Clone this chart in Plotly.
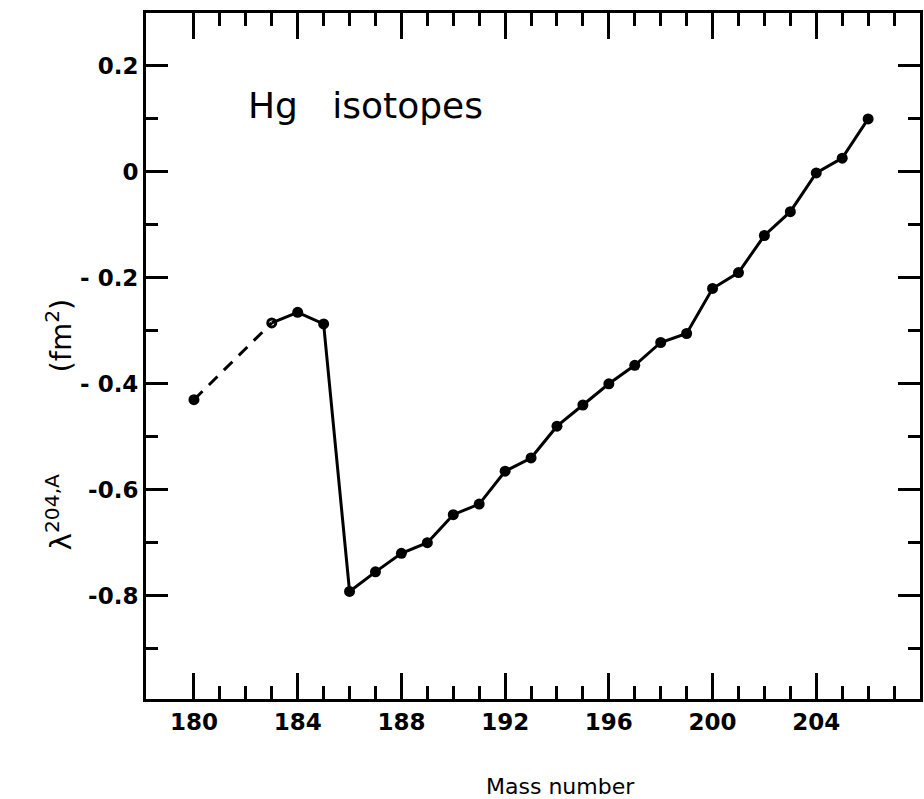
import plotly.graph_objects as go

# Data
mass = [180, 183, 184, 185, 186, 187, 188, 189, 190, 191, 192, 193, 194, 195,
        196, 197, 198, 199, 200, 201, 202, 203, 204, 205, 206]
lam = [-0.43, -0.285, -0.265, -0.287, -0.792, -0.755, -0.72, -0.70, -0.647, -0.627,
       -0.565, -0.54, -0.48, -0.44, -0.40, -0.365, -0.322, -0.305, -0.22, -0.19,
       -0.12, -0.075, -0.002, 0.026, 0.10]
open_mass = [183]

x_major = [180, 184, 188, 192, 196, 200, 204]
x_labels = ["180", "184", "188", "192", "196", "200", "204"]
x_minor = [m for m in range(181, 208) if m not in x_major]
y_major = [0.2, 0.0, -0.2, -0.4, -0.6, -0.8]
y_labels = ["0.2", "0", "- 0.2", "- 0.4", "-0.6", "-0.8"]
y_minor = [0.1, -0.1, -0.3, -0.5, -0.7, -0.9]

FONT = "DejaVu Sans, sans-serif"

fig = go.Figure()
# dashed segment (180 -> 183)
fig.add_trace(go.Scatter(x=mass[:2], y=lam[:2], mode="lines",
                         line=dict(color="black", width=3, dash="12px,9px"),
                         showlegend=False, hoverinfo="skip"))
# solid line from 183 onward
fig.add_trace(go.Scatter(x=mass[1:], y=lam[1:], mode="lines",
                         line=dict(color="black", width=3),
                         showlegend=False))
# filled markers
fx = [m for m in mass if m not in open_mass]
fy = [v for m, v in zip(mass, lam) if m not in open_mass]
fig.add_trace(go.Scatter(x=fx, y=fy, mode="markers",
                         marker=dict(color="black", size=11, symbol="circle"),
                         showlegend=False))
ox = [m for m in mass if m in open_mass]
oy = [v for m, v in zip(mass, lam) if m in open_mass]
fig.add_trace(go.Scatter(x=ox, y=oy, mode="markers",
                         marker=dict(color="black", size=8, symbol="circle-open",
                                     line=dict(width=3, color="black")),
                         showlegend=False))

tickfont = dict(family=FONT, size=23, weight="bold")

fig.update_layout(
    width=924, height=799,
    margin=dict(l=146, r=1, t=13, b=100),
    plot_bgcolor="white", paper_bgcolor="white",
    font=dict(family=FONT, color="black", size=24),
    xaxis=dict(range=[178.15, 208.0], showgrid=False, zeroline=False,
               showline=True, linecolor="black", linewidth=3, mirror="allticks",
               ticks="inside", ticklen=26, tickwidth=3, tickcolor="black",
               tickmode="array", tickvals=x_major, ticktext=x_labels,
               tickfont=tickfont,
               minor=dict(tickmode="array", tickvals=x_minor, ticks="inside",
                          ticklen=13, tickwidth=3, tickcolor="black")),
    yaxis=dict(range=[-0.995, 0.3], showgrid=False, zeroline=False,
               showline=True, linecolor="black", linewidth=3, mirror="allticks",
               ticks="inside", ticklen=22, tickwidth=3, tickcolor="black",
               tickmode="array", tickvals=y_major, ticktext=y_labels,
               tickfont=tickfont,
               minor=dict(tickmode="array", tickvals=y_minor, ticks="inside",
                          ticklen=12, tickwidth=3, tickcolor="black")),
    annotations=[
        dict(text="Hg&nbsp;&nbsp;&nbsp;isotopes", x=186.6, y=0.126, xref="x", yref="y",
             showarrow=False, font=dict(family=FONT, size=36)),
        dict(text="Mass number", x=0.535, y=-0.127, yanchor="middle",
             xref="paper", yref="paper",
             showarrow=False, font=dict(family=FONT, size=22)),
        dict(text="λ<sup>204,A</sup>&nbsp;&nbsp;&nbsp;&nbsp;&nbsp;&nbsp;&nbsp;&nbsp;&nbsp;&nbsp;&nbsp;(fm<sup>2</sup>)",
             x=-0.14, y=0.40, xref="paper", yref="paper", textangle=-90,
             showarrow=False, font=dict(family=FONT, size=29)),
    ],
)

fig.write_html("out.html")
